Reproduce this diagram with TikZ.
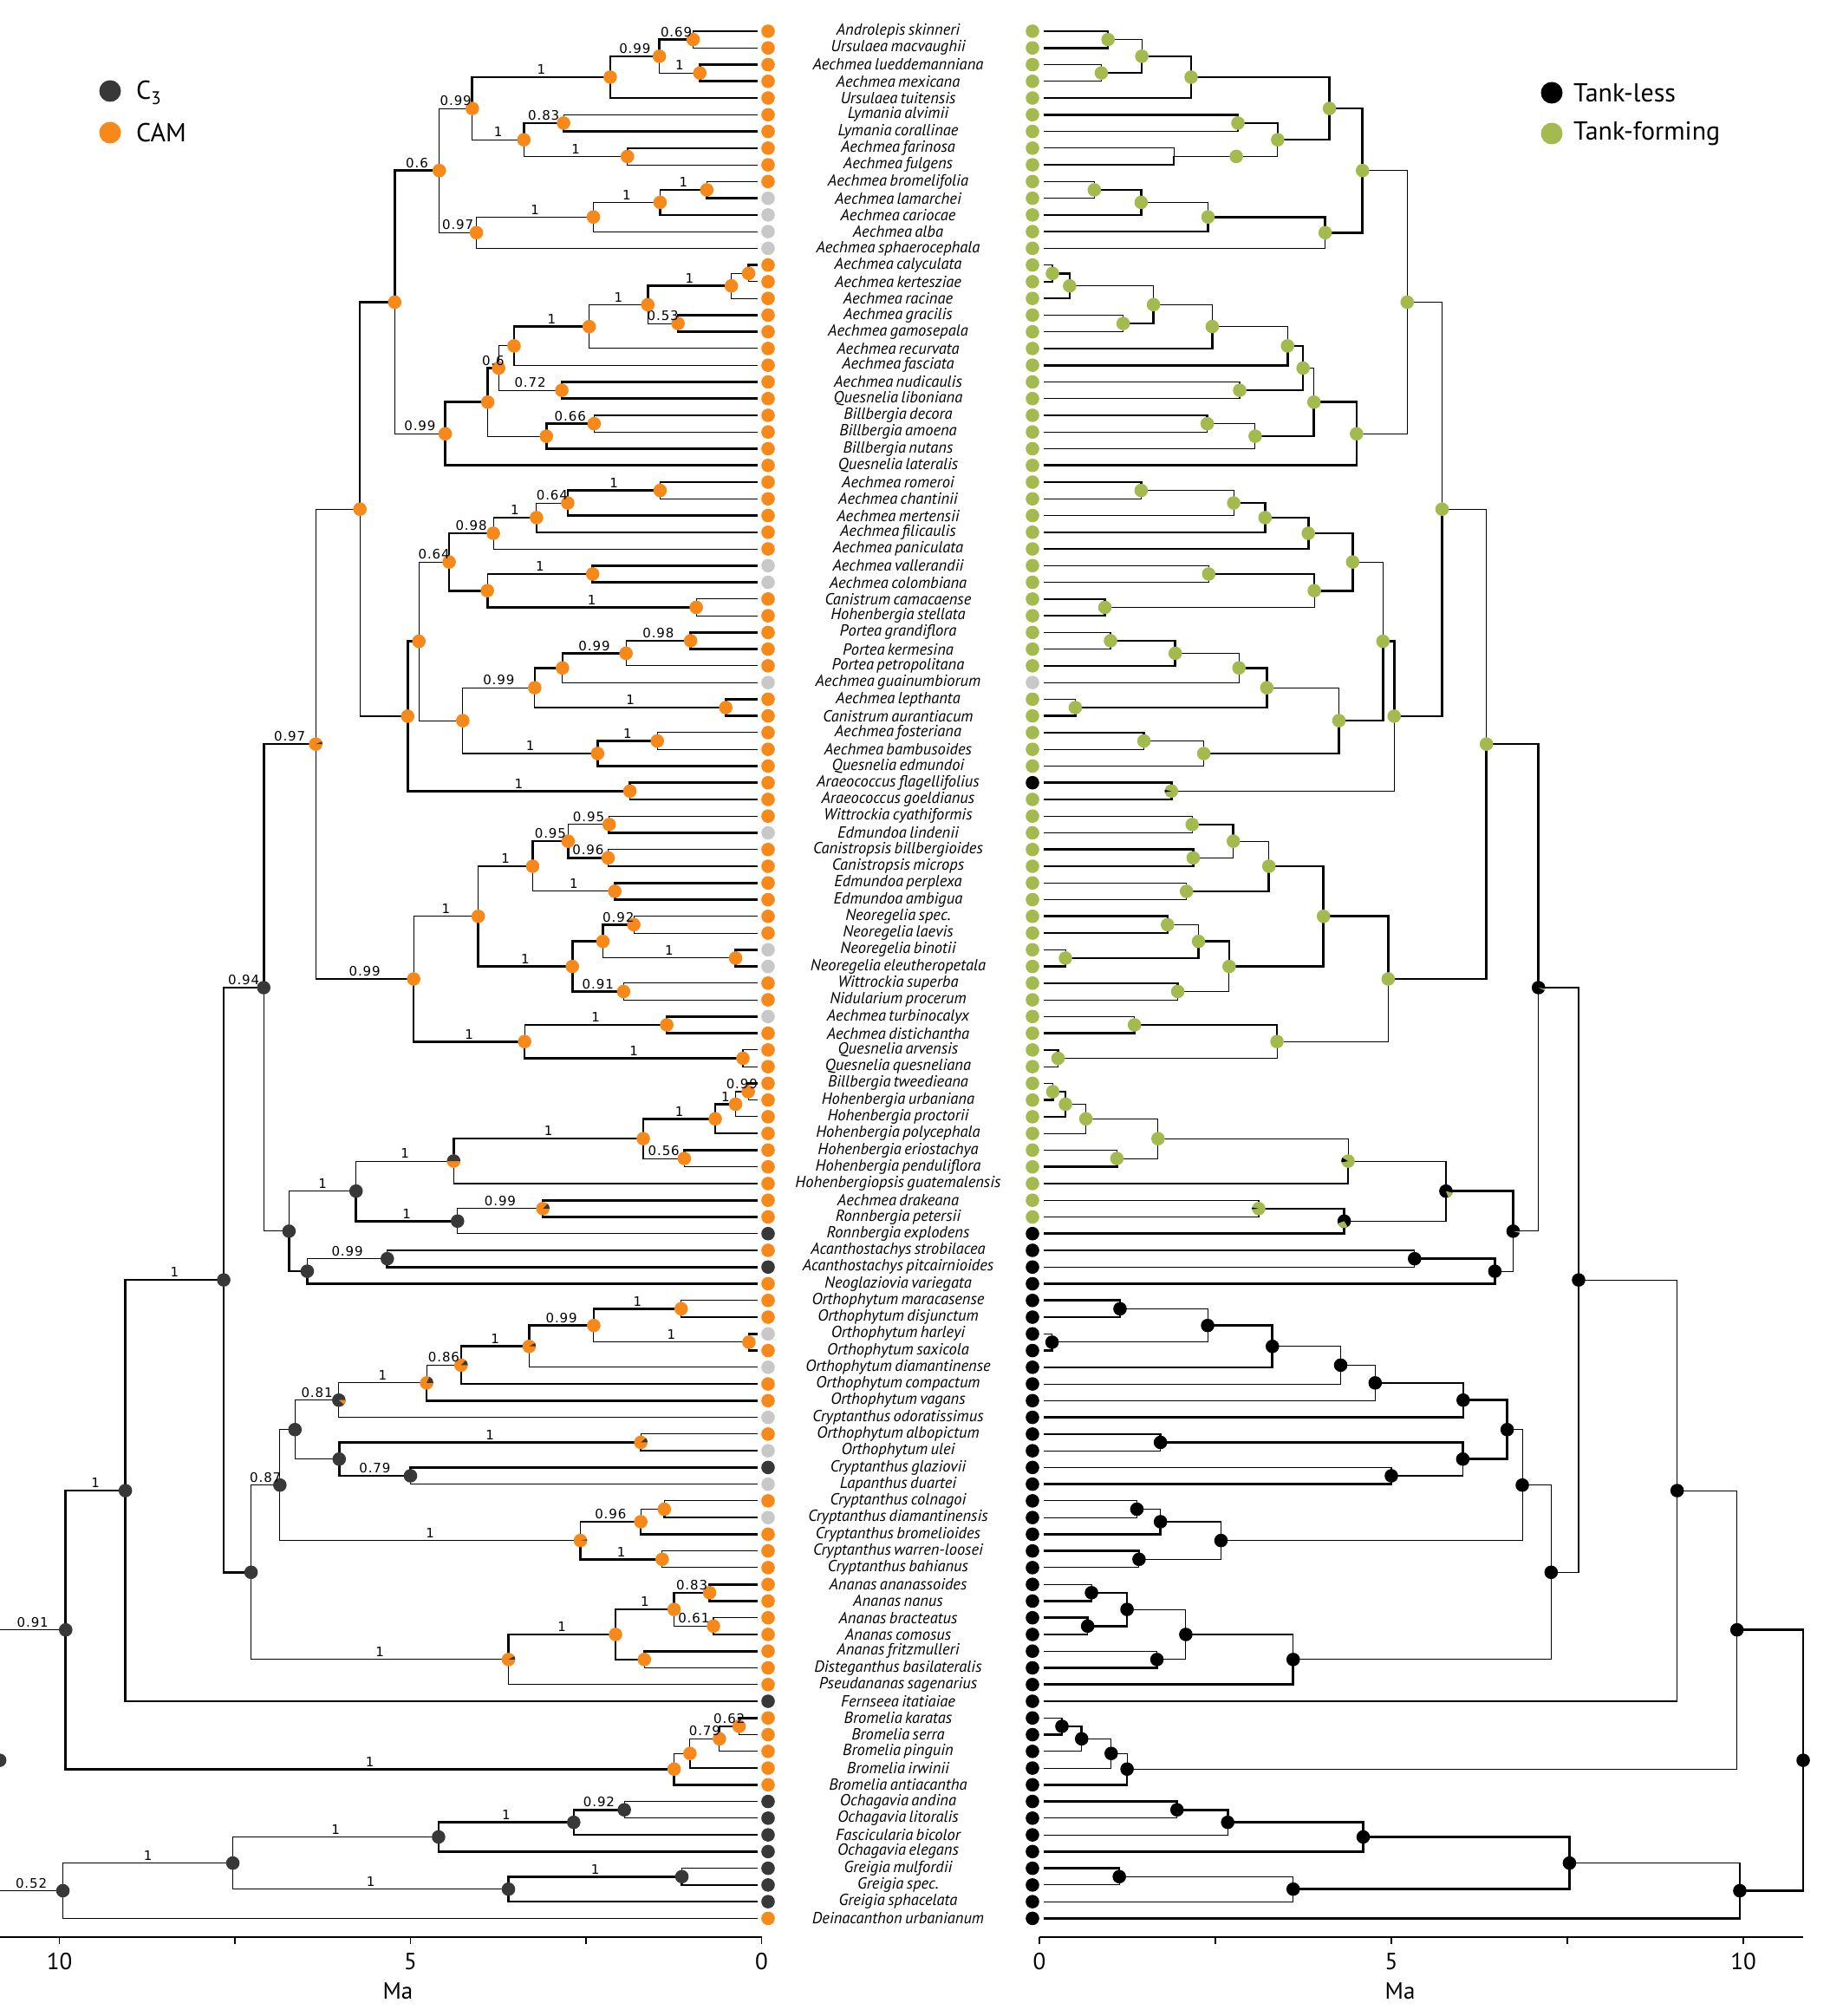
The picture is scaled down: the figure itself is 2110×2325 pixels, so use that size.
\documentclass[tikz,border=0pt]{standalone}
\usepackage{fontspec}
\setmainfont{PT Sans}[WordSpace=0.7]
\newfontfamily\labfont{DejaVu Sans}[LetterSpace=6]
\usetikzlibrary{calc}
\definecolor{cO}{HTML}{F7891A}
\definecolor{cD}{HTML}{383838}
\definecolor{cX}{HTML}{C8C8C8}
\definecolor{cG}{HTML}{A3BA4F}
\definecolor{cB}{HTML}{000000}
\pgfdeclarelayer{bg}
\pgfsetlayers{bg,main}
\tikzset{
  eK/.style={line width=2.6pt},
  ek/.style={line width=1.1pt},
  lbl/.style={font=\labfont\fontsize{15}{15}\selectfont, anchor=south, inner sep=0pt, yshift=3pt},
  taxon/.style={font=\itshape\fontsize{18.5}{18.5}\selectfont, inner sep=0pt},
  legtext/.style={font=\fontsize{30}{30}\selectfont, anchor=west, inner sep=0pt},
  axtext/.style={font=\fontsize{27}{27}\selectfont, inner sep=0pt},
  axline/.style={line width=1.1pt}
}
\newcommand\tipN[5]{%
  \pgfmathsetmacro\tmpy{36+(#2-1)*19.26}%
  \expandafter\xdef\csname Y@#1\endcsname{\tmpy}%
  \expandafter\gdef\csname LB@#1\endcsname{}%
  \coordinate (L#1) at (874,\tmpy);%
  \coordinate (R#1) at (1204,\tmpy);%
  \fill[#4] (886,\tmpy) circle (7.8pt);%
  \fill[#5] (1191,\tmpy) circle (7.8pt);%
  \node[taxon] (name#1) at (1036,\tmpy) {#3};%
}
\newcommand\edgeK[4]{%
  \begin{pgfonlayer}{bg}%
  \draw[e#3] (L#1) |- (L#2);%
  \draw[e#4] (R#1) |- (R#2);%
  \end{pgfonlayer}%
  \expandafter\ifx\csname LB@#2\endcsname\empty\else
    \node[lbl] (lab#2) at ($(L#1|-L#2)!0.5!(L#2)$) {\csname LB@#2\endcsname};%
  \fi}
\def\edgeparse#1#2#3#4\relax#5#6#7{\edgeK{#5}{#6}{#1}{#2}\edgeK{#5}{#7}{#3}{#4}}
\newcommand\inN[8]{%
  \pgfmathsetmacro\tmpy{(\csname Y@#3\endcsname+\csname Y@#4\endcsname)/2}%
  \expandafter\xdef\csname Y@#1\endcsname{\tmpy}%
  \coordinate (L#1) at ({878.5-81*#2},\tmpy);%
  \coordinate (R#1) at ({1199+81.2*#2},\tmpy);%
  \edgeparse#6\relax{#1}{#3}{#4}%
  \expandafter\gdef\csname LB@#1\endcsname{#5}%
  \fill[#7] (L#1) circle (7.8pt);%
  \fill[#8] (R#1) circle (7.8pt);%
}
\newcommand\pieW[4]{\fill[#2] (#1) -- ++(#3:7.8pt) arc[start angle=#3, end angle=#4, radius=7.8pt] -- cycle;}
\begin{document}
\begin{tikzpicture}[x=1pt,y=-1pt]
\useasboundingbox (0,0) rectangle (2110,2325);
% tips
\tipN{t1}{1}{Androlepis skinneri}{cO}{cG}
\tipN{t2}{2}{Ursulaea macvaughii}{cO}{cG}
\tipN{t3}{3}{Aechmea lueddemanniana}{cO}{cG}
\tipN{t4}{4}{Aechmea mexicana}{cO}{cG}
\tipN{t5}{5}{Ursulaea tuitensis}{cO}{cG}
\tipN{t6}{6}{Lymania alvimii}{cO}{cG}
\tipN{t7}{7}{Lymania corallinae}{cO}{cG}
\tipN{t8}{8}{Aechmea farinosa}{cO}{cG}
\tipN{t9}{9}{Aechmea fulgens}{cO}{cG}
\tipN{t10}{10}{Aechmea bromelifolia}{cO}{cG}
\tipN{t11}{11}{Aechmea lamarchei}{cX}{cG}
\tipN{t12}{12}{Aechmea cariocae}{cX}{cG}
\tipN{t13}{13}{Aechmea alba}{cX}{cG}
\tipN{t14}{14}{Aechmea sphaerocephala}{cX}{cG}
\tipN{t15}{15}{Aechmea calyculata}{cO}{cG}
\tipN{t16}{16}{Aechmea kertesziae}{cO}{cG}
\tipN{t17}{17}{Aechmea racinae}{cO}{cG}
\tipN{t18}{18}{Aechmea gracilis}{cO}{cG}
\tipN{t19}{19}{Aechmea gamosepala}{cO}{cG}
\tipN{t20}{20}{Aechmea recurvata}{cO}{cG}
\tipN{t21}{21}{Aechmea fasciata}{cO}{cG}
\tipN{t22}{22}{Aechmea nudicaulis}{cO}{cG}
\tipN{t23}{23}{Quesnelia liboniana}{cO}{cG}
\tipN{t24}{24}{Billbergia decora}{cO}{cG}
\tipN{t25}{25}{Billbergia amoena}{cO}{cG}
\tipN{t26}{26}{Billbergia nutans}{cO}{cG}
\tipN{t27}{27}{Quesnelia lateralis}{cO}{cG}
\tipN{t28}{28}{Aechmea romeroi}{cO}{cG}
\tipN{t29}{29}{Aechmea chantinii}{cO}{cG}
\tipN{t30}{30}{Aechmea mertensii}{cO}{cG}
\tipN{t31}{31}{Aechmea filicaulis}{cO}{cG}
\tipN{t32}{32}{Aechmea paniculata}{cO}{cG}
\tipN{t33}{33}{Aechmea vallerandii}{cX}{cG}
\tipN{t34}{34}{Aechmea colombiana}{cX}{cG}
\tipN{t35}{35}{Canistrum camacaense}{cO}{cG}
\tipN{t36}{36}{Hohenbergia stellata}{cO}{cG}
\tipN{t37}{37}{Portea grandiflora}{cO}{cG}
\tipN{t38}{38}{Portea kermesina}{cO}{cG}
\tipN{t39}{39}{Portea petropolitana}{cO}{cG}
\tipN{t40}{40}{Aechmea guainumbiorum}{cX}{cX}
\tipN{t41}{41}{Aechmea lepthanta}{cO}{cG}
\tipN{t42}{42}{Canistrum aurantiacum}{cO}{cG}
\tipN{t43}{43}{Aechmea fosteriana}{cO}{cG}
\tipN{t44}{44}{Aechmea bambusoides}{cO}{cG}
\tipN{t45}{45}{Quesnelia edmundoi}{cO}{cG}
\tipN{t46}{46}{Araeococcus flagellifolius}{cO}{cB}
\tipN{t47}{47}{Araeococcus goeldianus}{cO}{cG}
\tipN{t48}{48}{Wittrockia cyathiformis}{cO}{cG}
\tipN{t49}{49}{Edmundoa lindenii}{cX}{cG}
\tipN{t50}{50}{Canistropsis billbergioides}{cO}{cG}
\tipN{t51}{51}{Canistropsis microps}{cO}{cG}
\tipN{t52}{52}{Edmundoa perplexa}{cO}{cG}
\tipN{t53}{53}{Edmundoa ambigua}{cO}{cG}
\tipN{t54}{54}{Neoregelia spec.}{cO}{cG}
\tipN{t55}{55}{Neoregelia laevis}{cO}{cG}
\tipN{t56}{56}{Neoregelia binotii}{cX}{cG}
\tipN{t57}{57}{Neoregelia eleutheropetala}{cX}{cG}
\tipN{t58}{58}{Wittrockia superba}{cO}{cG}
\tipN{t59}{59}{Nidularium procerum}{cO}{cG}
\tipN{t60}{60}{Aechmea turbinocalyx}{cX}{cG}
\tipN{t61}{61}{Aechmea distichantha}{cO}{cG}
\tipN{t62}{62}{Quesnelia arvensis}{cO}{cG}
\tipN{t63}{63}{Quesnelia quesneliana}{cO}{cG}
\tipN{t64}{64}{Billbergia tweedieana}{cO}{cG}
\tipN{t65}{65}{Hohenbergia urbaniana}{cO}{cG}
\tipN{t66}{66}{Hohenbergia proctorii}{cO}{cG}
\tipN{t67}{67}{Hohenbergia polycephala}{cO}{cG}
\tipN{t68}{68}{Hohenbergia eriostachya}{cO}{cG}
\tipN{t69}{69}{Hohenbergia penduliflora}{cO}{cG}
\tipN{t70}{70}{Hohenbergiopsis guatemalensis}{cO}{cG}
\tipN{t71}{71}{Aechmea drakeana}{cO}{cG}
\tipN{t72}{72}{Ronnbergia petersii}{cO}{cG}
\tipN{t73}{73}{Ronnbergia explodens}{cD}{cB}
\tipN{t74}{74}{Acanthostachys strobilacea}{cO}{cB}
\tipN{t75}{75}{Acanthostachys pitcairnioides}{cD}{cB}
\tipN{t76}{76}{Neoglaziovia variegata}{cO}{cB}
\tipN{t77}{77}{Orthophytum maracasense}{cO}{cB}
\tipN{t78}{78}{Orthophytum disjunctum}{cO}{cB}
\tipN{t79}{79}{Orthophytum harleyi}{cX}{cB}
\tipN{t80}{80}{Orthophytum saxicola}{cO}{cB}
\tipN{t81}{81}{Orthophytum diamantinense}{cX}{cB}
\tipN{t82}{82}{Orthophytum compactum}{cO}{cB}
\tipN{t83}{83}{Orthophytum vagans}{cO}{cB}
\tipN{t84}{84}{Cryptanthus odoratissimus}{cX}{cB}
\tipN{t85}{85}{Orthophytum albopictum}{cO}{cB}
\tipN{t86}{86}{Orthophytum ulei}{cX}{cB}
\tipN{t87}{87}{Cryptanthus glaziovii}{cD}{cB}
\tipN{t88}{88}{Lapanthus duartei}{cX}{cB}
\tipN{t89}{89}{Cryptanthus colnagoi}{cO}{cB}
\tipN{t90}{90}{Cryptanthus diamantinensis}{cX}{cB}
\tipN{t91}{91}{Cryptanthus bromelioides}{cO}{cB}
\tipN{t92}{92}{Cryptanthus warren-loosei}{cO}{cB}
\tipN{t93}{93}{Cryptanthus bahianus}{cO}{cB}
\tipN{t94}{94}{Ananas ananassoides}{cO}{cB}
\tipN{t95}{95}{Ananas nanus}{cO}{cB}
\tipN{t96}{96}{Ananas bracteatus}{cO}{cB}
\tipN{t97}{97}{Ananas comosus}{cO}{cB}
\tipN{t98}{98}{Ananas fritzmulleri}{cO}{cB}
\tipN{t99}{99}{Disteganthus basilateralis}{cO}{cB}
\tipN{t100}{100}{Pseudananas sagenarius}{cO}{cB}
\tipN{t101}{101}{Fernseea itatiaiae}{cD}{cB}
\tipN{t102}{102}{Bromelia karatas}{cO}{cB}
\tipN{t103}{103}{Bromelia serra}{cO}{cB}
\tipN{t104}{104}{Bromelia pinguin}{cO}{cB}
\tipN{t105}{105}{Bromelia irwinii}{cO}{cB}
\tipN{t106}{106}{Bromelia antiacantha}{cO}{cB}
\tipN{t107}{107}{Ochagavia andina}{cD}{cB}
\tipN{t108}{108}{Ochagavia litoralis}{cD}{cB}
\tipN{t109}{109}{Fascicularia bicolor}{cD}{cB}
\tipN{t110}{110}{Ochagavia elegans}{cD}{cB}
\tipN{t111}{111}{Greigia mulfordii}{cD}{cB}
\tipN{t112}{112}{Greigia spec.}{cD}{cB}
\tipN{t113}{113}{Greigia sphacelata}{cD}{cB}
\tipN{t114}{114}{Deinacanthon urbanianum}{cO}{cB}
% internal nodes: name, age, child1, child2, label, styles (L1 R1 L2 R2), Lcol, Rcol
\inN{s1x2}{0.975}{t1}{t2}{0.69}{kKkK}{cO}{cG}
\inN{s3x4}{0.88}{t3}{t4}{1}{KkKk}{cO}{cG}
\inN{s1x4}{1.455}{s1x2}{s3x4}{0.99}{KkkK}{cO}{cG}
\inN{s1x5}{2.155}{s1x4}{t5}{1}{KKkK}{cO}{cG}
\inN{s6x7}{2.82}{t6}{t7}{0.83}{kKKk}{cO}{cG}
\inN{s8x9}{1.91}{t8}{t9}{1}{KkkK}{cO}{opacity=0}
\fill[cG] ($(Rs8x9)+(72pt,0)$) circle (7.8pt);
\inN{s6x9}{3.385}{s6x7}{s8x9}{1}{KKkk}{cO}{cG}
\inN{s1x9}{4.12}{s1x5}{s6x9}{0.99}{KKkK}{cO}{cG}
\inN{s10x11}{0.78}{t10}{t11}{1}{kkKk}{cO}{cG}
\inN{s10x12}{1.445}{s10x11}{t12}{1}{kKKK}{cO}{cG}
\inN{s10x13}{2.395}{s10x12}{t13}{1}{kkkK}{cO}{cG}
\inN{s10x14}{4.06}{s10x13}{t14}{0.97}{kKkk}{cO}{cG}
\inN{s1x14}{4.59}{s1x9}{s10x14}{0.6}{kKkK}{cO}{cG}
\inN{s15x16}{0.185}{t15}{t16}{}{KkkK}{cO}{cG}
\inN{s15x17}{0.43}{s15x16}{t17}{1}{kKkK}{cO}{cG}
\inN{s18x19}{1.19}{t18}{t19}{0.53}{KkKk}{cO}{cG}
\inN{s15x19}{1.62}{s15x17}{s18x19}{1}{KkkK}{cO}{cG}
\inN{s15x20}{2.455}{s15x19}{t20}{1}{kkkK}{cO}{cG}
\inN{s15x21}{3.525}{s15x20}{t21}{}{KkkK}{cO}{cG}
\inN{s22x23}{2.845}{t22}{t23}{0.72}{KkKk}{cO}{cG}
\inN{s15x23}{3.745}{s15x21}{s22x23}{0.6}{kKkK}{cO}{cG}
\inN{s24x25}{2.385}{t24}{t25}{0.66}{kKkk}{cO}{cG}
\inN{s24x26}{3.065}{s24x25}{t26}{}{KkKk}{cO}{cG}
\inN{s15x26}{3.90}{s15x23}{s24x26}{}{KkkK}{cO}{cG}
\inN{s15x27}{4.505}{s15x26}{t27}{0.99}{KKKK}{cO}{cG}
\inN{s1x27}{5.225}{s1x14}{s15x27}{}{Kkkk}{cO}{cG}
\inN{s28x29}{1.445}{t28}{t29}{1}{kKkk}{cO}{cG}
\inN{s28x30}{2.76}{s28x29}{t30}{0.64}{KkKk}{cO}{cG}
\inN{s28x31}{3.205}{s28x30}{t31}{1}{kKKK}{cO}{cG}
\inN{s28x32}{3.82}{s28x31}{t32}{0.98}{kKkK}{cO}{cG}
\inN{s33x34}{2.405}{t33}{t34}{1}{KkKk}{cO}{cG}
\inN{s35x36}{0.93}{t35}{t36}{1}{kKkK}{cO}{cG}
\inN{s33x36}{3.905}{s33x34}{s35x36}{}{kKKk}{cO}{cG}
\inN{s28x36}{4.45}{s28x32}{s33x36}{0.64}{KKKK}{cO}{cG}
\inN{s37x38}{1.01}{t37}{t38}{0.98}{KkKk}{cO}{cG}
\inN{s37x39}{1.93}{s37x38}{t39}{0.99}{kKkK}{cO}{cG}
\inN{s37x40}{2.835}{s37x39}{t40}{}{Kkkk}{cO}{cG}
\inN{s41x42}{0.51}{t41}{t42}{1}{KkKK}{cO}{cG}
\inN{s37x42}{3.23}{s37x40}{s41x42}{0.99}{KKkK}{cO}{cG}
\inN{s43x44}{1.485}{t43}{t44}{1}{kKkk}{cO}{cG}
\inN{s43x45}{2.335}{s43x44}{t45}{1}{KkKk}{cO}{cG}
\inN{s37x45}{4.255}{s37x42}{s43x45}{}{kkkK}{cO}{cG}
\inN{s28x45}{4.88}{s28x36}{s37x45}{}{kkkK}{cO}{cG}
\inN{s46x47}{1.875}{t46}{t47}{1}{KKkK}{cO}{cG}
\inN{s28x47}{5.04}{s28x45}{s46x47}{}{KKKk}{cO}{cG}
\inN{s1x47}{5.72}{s1x27}{s28x47}{}{KkkK}{cO}{cG}
\inN{s48x49}{2.17}{t48}{t49}{0.95}{kkKk}{cO}{cG}
\inN{s50x51}{2.185}{t50}{t51}{0.96}{kKkK}{cO}{cG}
\inN{s48x51}{2.755}{s48x49}{s50x51}{0.95}{kKKk}{cO}{cG}
\inN{s52x53}{2.09}{t52}{t53}{1}{KkKk}{cO}{cG}
\inN{s48x53}{3.26}{s48x51}{s52x53}{1}{KkkK}{cO}{cG}
\inN{s54x55}{1.82}{t54}{t55}{0.92}{kKkK}{cO}{cG}
\inN{s56x57}{0.37}{t56}{t57}{1}{KkKK}{cO}{cG}
\inN{s54x57}{2.26}{s54x55}{s56x57}{}{KkkK}{cO}{cG}
\inN{s58x59}{1.965}{t58}{t59}{0.91}{kKkk}{cO}{cG}
\inN{s54x59}{2.695}{s54x57}{s58x59}{1}{KKKk}{cO}{cG}
\inN{s48x59}{4.035}{s48x53}{s54x59}{1}{kKKK}{cO}{cG}
\inN{s60x61}{1.35}{t60}{t61}{1}{KkKK}{cO}{cG}
\inN{s62x63}{0.265}{t62}{t63}{1}{kKkk}{cO}{cG}
\inN{s60x63}{3.375}{s60x61}{s62x63}{1}{kKKk}{cO}{cG}
\inN{s48x63}{4.955}{s48x59}{s60x63}{0.99}{kKKk}{cO}{cG}
\inN{s1x63}{6.35}{s1x47}{s48x63}{0.97}{kkkK}{cO}{cG}
\inN{s64x65}{0.19}{t64}{t65}{0.99}{KkkK}{cO}{cG}
\inN{s64x66}{0.37}{s64x65}{t66}{1}{kKkK}{cO}{cG}
\inN{s64x67}{0.66}{s64x66}{t67}{1}{KkKk}{cO}{cG}
\inN{s68x69}{1.10}{t68}{t69}{0.56}{KkkK}{cO}{cG}
\inN{s64x69}{1.685}{s64x67}{s68x69}{1}{Kkkk}{cO}{cG}
\inN{s64x70}{4.385}{s64x69}{t70}{1}{KkkK}{cO}{cG}
\inN{s71x72}{3.115}{t71}{t72}{0.99}{KkKk}{cO}{cG}
\inN{s71x73}{4.33}{s71x72}{t73}{1}{kKkK}{cD}{cB}
\inN{s64x73}{5.775}{s64x70}{s71x73}{1}{kkKk}{cD}{cB}
\inN{s74x75}{5.33}{t74}{t75}{0.99}{kkKk}{cD}{cB}
\inN{s74x76}{6.47}{s74x75}{t76}{}{kKKK}{cD}{cB}
\inN{s64x76}{6.73}{s64x73}{s74x76}{}{kKKk}{cD}{cB}
\inN{s1x76}{7.09}{s1x63}{s64x76}{0.94}{KKkk}{cD}{cB}
\inN{s77x78}{1.145}{t77}{t78}{1}{kKkk}{cO}{cB}
\inN{s79x80}{0.18}{t79}{t80}{1}{KkKK}{cO}{cB}
\inN{s77x80}{2.39}{s77x78}{s79x80}{0.99}{Kkkk}{cO}{cB}
\inN{s77x81}{3.31}{s77x80}{t81}{1}{KKkK}{cO}{cB}
\inN{s77x82}{4.28}{s77x81}{t82}{0.86}{KkKk}{cO}{cB}
\inN{s77x83}{4.77}{s77x82}{t83}{1}{kkKk}{cO}{cB}
\inN{s77x84}{6.02}{s77x83}{t84}{0.81}{kKkK}{cD}{cB}
\inN{s85x86}{1.72}{t85}{t86}{1}{kKKk}{cO}{cB}
\inN{s87x88}{5.0}{t87}{t88}{0.79}{KkkK}{cD}{cB}
\inN{s85x88}{6.015}{s85x86}{s87x88}{}{KKKk}{cD}{cB}
\inN{s77x88}{6.645}{s77x84}{s85x88}{}{kKkK}{cD}{cB}
\inN{s89x90}{1.385}{t89}{t90}{}{kkKk}{cO}{cB}
\inN{s89x91}{1.72}{s89x90}{t91}{0.96}{kkKK}{cO}{cB}
\inN{s92x93}{1.415}{t92}{t93}{1}{kKkk}{cO}{cB}
\inN{s89x93}{2.58}{s89x91}{s92x93}{1}{kkKk}{cO}{cB}
\inN{s77x93}{6.86}{s77x88}{s89x93}{0.87}{kkkk}{cD}{cB}
\inN{s94x95}{0.74}{t94}{t95}{0.83}{KkKK}{cO}{cB}
\inN{s96x97}{0.685}{t96}{t97}{0.61}{kKKk}{cO}{cB}
\inN{s94x97}{1.245}{s94x95}{s96x97}{1}{KKkK}{cO}{cB}
\inN{s98x99}{1.67}{t98}{t99}{}{KkkK}{cO}{cB}
\inN{s94x99}{2.08}{s94x97}{s98x99}{1}{KkKk}{cO}{cB}
\inN{s94x100}{3.605}{s94x99}{t100}{1}{KkkK}{cO}{cB}
\inN{s77x100}{7.27}{s77x93}{s94x100}{}{kkkk}{cD}{cB}
\inN{s1x100}{7.66}{s1x76}{s77x100}{1}{kkKk}{cD}{cB}
\inN{s1x101}{9.06}{s1x100}{t101}{1}{KkKk}{cD}{cB}
\inN{s102x103}{0.32}{t102}{t103}{0.62}{KkkK}{cO}{cB}
\inN{s102x104}{0.60}{s102x103}{t104}{0.79}{KKkk}{cO}{cB}
\inN{s102x105}{1.02}{s102x104}{t105}{}{kkKk}{cO}{cB}
\inN{s102x106}{1.245}{s102x105}{t106}{1}{kkKK}{cO}{cB}
\inN{s1x106}{9.91}{s1x101}{s102x106}{0.91}{KkKk}{cD}{cB}
\inN{s107x108}{1.955}{t107}{t108}{0.92}{kKkk}{cD}{cB}
\inN{s107x109}{2.675}{s107x108}{t109}{1}{KKKk}{cD}{cB}
\inN{s107x110}{4.6}{s107x109}{t110}{1}{KKKK}{cD}{cB}
\inN{s111x112}{1.135}{t111}{t112}{1}{kKKk}{cD}{cB}
\inN{s111x113}{3.605}{s111x112}{t113}{1}{KkKk}{cD}{cB}
\inN{s107x113}{7.53}{s107x110}{s111x113}{1}{kKkK}{cD}{cB}
\inN{s107x114}{9.95}{s107x113}{t114}{0.52}{kkkK}{cD}{cB}
\inN{root}{10.85}{s1x106}{s107x114}{}{kKkK}{cD}{cB}
% pies
\pieW{Ls1x63}{cD}{0}{22}
\pieW{Ls64x70}{cD}{0}{180}
\pieW{Ls71x72}{cD}{0}{45}
\pieW{Ls77x81}{cD}{0}{30}
\pieW{Ls77x82}{cD}{0}{45}
\pieW{Ls77x83}{cD}{0}{65}
\pieW{Ls77x84}{cO}{320}{360}
\pieW{Ls85x86}{cD}{0}{40}
\pieW{Ls89x93}{cD}{0}{10}
\pieW{Ls94x100}{cD}{0}{30}
\pieW{Rs64x70}{cB}{150}{190}
\pieW{Rs71x72}{cB}{170}{185}
\pieW{Rs71x73}{cG}{200}{300}
\pieW{Rs64x73}{cG}{290}{345}
\pieW{Rs64x76}{cG}{345}{360}
\pieW{Rs1x76}{cG}{335}{350}
\pieW{Rs46x47}{cB}{170}{190}
% legends
\fill[cD] (127,105) circle (12.5pt);
\node[legtext] (legC) at (157,107) {C\textsubscript{3}};
\fill[cO] (127,153) circle (12.5pt);
\node[legtext] (legCAM) at (157,153) {CAM};
\fill[cB] (1790,107) circle (12.5pt);
\node[legtext] (legTL) at (1815,107) {Tank-less};
\fill[cG] (1790,154) circle (12.5pt);
\node[legtext] (legTF) at (1815,154) {Tank-forming};
% axes
\draw[axline] (0,2234) -- (878.5,2234);
\foreach \a in {0,2.5,5,7.5,10} \draw[axline] ({878.5-81*\a},2234) -- ({878.5-81*\a},2242);
\node[axtext] (ax0L) at (878.5,2262) {0};
\node[axtext] (ax5L) at (473.5,2262) {5};
\node[axtext] (ax10L) at (68.5,2262) {10};
\node[axtext] (maL) at (459,2296) {Ma};
\draw[axline] (1199,2234) -- (2080,2234);
\foreach \a in {0,2.5,5,7.5,10} \draw[axline] ({1199+81.2*\a},2234) -- ({1199+81.2*\a},2242);
\node[axtext] (ax0R) at (1199,2262) {0};
\node[axtext] (ax5R) at (1605,2262) {5};
\node[axtext] (ax10R) at (2011,2262) {10};
\node[axtext] (maR) at (1615,2296) {Ma};
\end{tikzpicture}
\end{document}
